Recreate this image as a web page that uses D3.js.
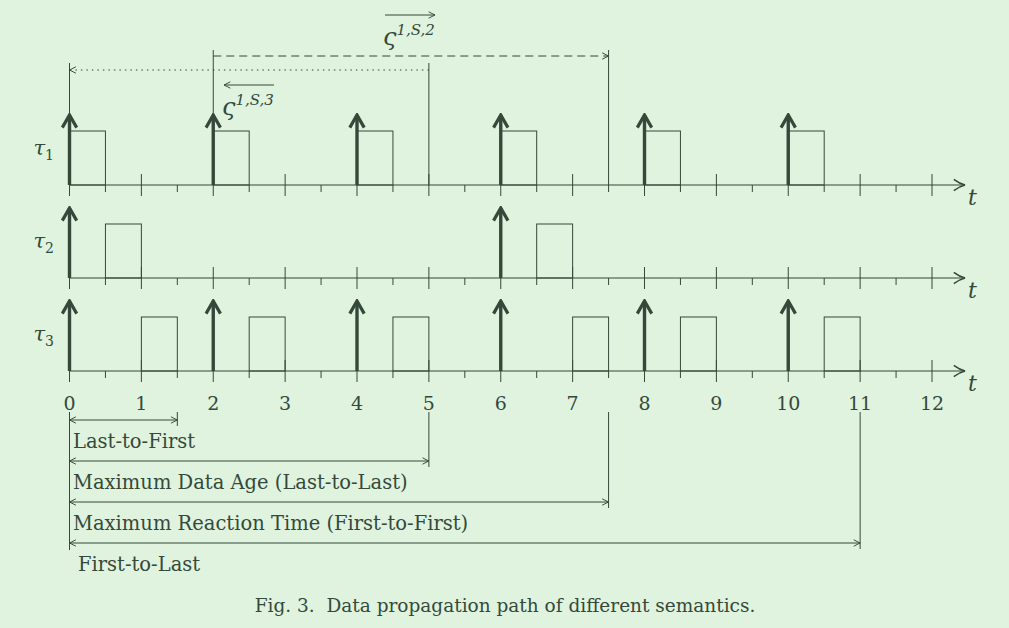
<!DOCTYPE html>
<html>
<head>
<meta charset="utf-8">
<script src="https://d3js.org/d3.v7.min.js"></script>
<style>
body { margin: 0; background: #dff3df; }
text { font-family: "DejaVu Serif", "Liberation Serif", serif; fill: #34493a; }
</style>
</head>
<body>
<svg id="chart" width="1009" height="628"></svg>
<script>
// data
const ticks = d3.range(0, 12.5, 0.5);
const tickLabels = [0,1,2,3,4,5,6,7,8,9,10,11,12];
const tasks = ["τ1", "τ2", "τ3"];
const releases = [[0,2,4,6,8,10], [0,6], [0,2,4,6,8,10]];
const jobs = [
  [[0,0.5],[2,2.5],[4,4.5],[6,6.5],[8,8.5],[10,10.5]],
  [[0.5,1],[6.5,7]],
  [[1,1.5],[2.5,3],[4.5,5],[7,7.5],[8.5,9],[10.5,11]]
];
const spans = [
  {label: "Last-to-First", end: 1.5},
  {label: "Maximum Data Age (Last-to-Last)", end: 5},
  {label: "Maximum Reaction Time (First-to-First)", end: 7.5},
  {label: "First-to-Last", end: 11}
];

const ink = "#34493a";
const svg = d3.select("#chart");
const x = d3.scaleLinear().domain([0, 12]).range([69.5, 932]);
const rowY = d3.scalePoint().domain(tasks).range([185, 371]);

const defs = svg.append("defs");
defs.append("marker").attr("id", "head").attr("viewBox", "0 0 10 10").attr("refX", 9).attr("refY", 5)
  .attr("markerWidth", 8).attr("markerHeight", 8).attr("markerUnits", "userSpaceOnUse").attr("orient", "auto-start-reverse")
  .append("path").attr("d", "M1,1 L9,5 L1,9").attr("fill", "none").attr("stroke", ink).attr("stroke-width", 1.2);
defs.append("marker").attr("id", "big").attr("viewBox", "0 0 10 10").attr("refX", 9).attr("refY", 5)
  .attr("markerWidth", 18).attr("markerHeight", 18).attr("markerUnits", "userSpaceOnUse").attr("orient", "auto")
  .append("path").attr("d", "M2,1 L9,5 L2,9").attr("fill", "none").attr("stroke", ink).attr("stroke-width", 1.8);
defs.append("marker").attr("id", "axh").attr("viewBox", "0 0 10 10").attr("refX", 9).attr("refY", 5)
  .attr("markerWidth", 14).attr("markerHeight", 14).attr("markerUnits", "userSpaceOnUse").attr("orient", "auto")
  .append("path").attr("d", "M1,1 Q5,4 9,5 Q5,6 1,9").attr("fill", "none").attr("stroke", ink).attr("stroke-width", 1.1);

tasks.forEach((t, i) => {
  const y0 = rowY(t);
  const g = svg.append("g");
  g.append("line").attr("x1", x(0)).attr("x2", x(12) + 33).attr("y1", y0).attr("y2", y0)
    .attr("stroke", ink).attr("stroke-width", 1.2).attr("marker-end", "url(#axh)");
  g.selectAll(".tk").data(ticks).join("line")
    .attr("x1", d => x(d)).attr("x2", d => x(d))
    .attr("y1", d => d % 1 === 0 && d > 0 ? y0 - 11 : y0)
    .attr("y2", d => d % 1 === 0 ? y0 + 11 : y0 + 7)
    .attr("stroke", ink).attr("stroke-width", 1);
  g.selectAll(".job").data(jobs[i]).join("rect")
    .attr("x", d => x(d[0])).attr("width", d => x(d[1]) - x(d[0]))
    .attr("y", y0 - 54).attr("height", 54)
    .attr("fill", "none").attr("stroke", ink).attr("stroke-width", 1);
  g.selectAll(".rel").data(releases[i]).join("line")
    .attr("x1", d => x(d)).attr("x2", d => x(d)).attr("y1", y0).attr("y2", y0 - 70)
    .attr("stroke", ink).attr("stroke-width", 3.4).attr("marker-end", "url(#big)");
  const lab = g.append("text").attr("x", 54).attr("y", y0 - 30).attr("font-size", 21)
    .attr("text-anchor", "end").attr("font-style", "italic");
  lab.append("tspan").text("τ");
  lab.append("tspan").attr("font-style", "normal").attr("font-size", 14).attr("dy", 5).text(i + 1);
  g.append("text").attr("x", 968).attr("y", y0 + 20).attr("font-size", 22).attr("font-style", "italic").text("t");
});

svg.selectAll(".num").data(tickLabels).join("text")
  .attr("x", d => x(d)).attr("y", 410).attr("text-anchor", "middle").attr("font-size", 19).text(d => d);

// path lines on top
const thin = (x1, y1, x2, y2) => svg.append("line").attr("x1", x1).attr("y1", y1).attr("x2", x2).attr("y2", y2)
  .attr("stroke", ink).attr("stroke-width", 1);
thin(x(0), 63, x(0), 185);
thin(x(2), 50, x(2), 185);
thin(x(5), 63, x(5), 185);
thin(x(7.5), 50, x(7.5), 185);
thin(x(5), 70, x(0), 70).attr("stroke-dasharray", "1.5,4").attr("marker-end", "url(#head)");
thin(x(2), 56, x(7.5), 56).attr("stroke-dasharray", "8,5").attr("marker-end", "url(#head)");

function sigma(xp, yp, sup, dir) {
  const t = svg.append("text").attr("x", xp).attr("y", yp).attr("font-size", 24).attr("font-style", "italic");
  t.append("tspan").text("ς");
  t.append("tspan").attr("font-size", 15).attr("dy", -10).attr("font-style", "italic").text(sup);
  const x1 = xp + 2, x2 = xp + 52, ya = yp - 30;
  thin(dir > 0 ? x1 : x2, ya, dir > 0 ? x2 : x1, ya).attr("marker-end", "url(#head)");
}
sigma(383, 45, "1,S,2", 1);
sigma(222, 115, "1,S,3", -1);

// bottom spans
thin(x(0), 412, x(0), 550);
spans.forEach((s, i) => {
  const yl = 420 + i * 41;
  thin(x(s.end), 412, x(s.end), yl + 6);
  thin(x(0), yl, x(s.end), yl).attr("marker-end", "url(#head)").attr("marker-start", "url(#head)");
  svg.append("text").attr("x", i === 3 ? 78 : 73).attr("y", yl + 28).attr("font-size", 19.5).text(s.label);
});

svg.append("text").attr("x", 505).attr("y", 612).attr("text-anchor", "middle").attr("font-size", 18.5)
  .attr("font-family", "Lato, sans-serif").attr("xml:space", "preserve").text("Fig. 3.  Data propagation path of different semantics.");
</script>
</body>
</html>
